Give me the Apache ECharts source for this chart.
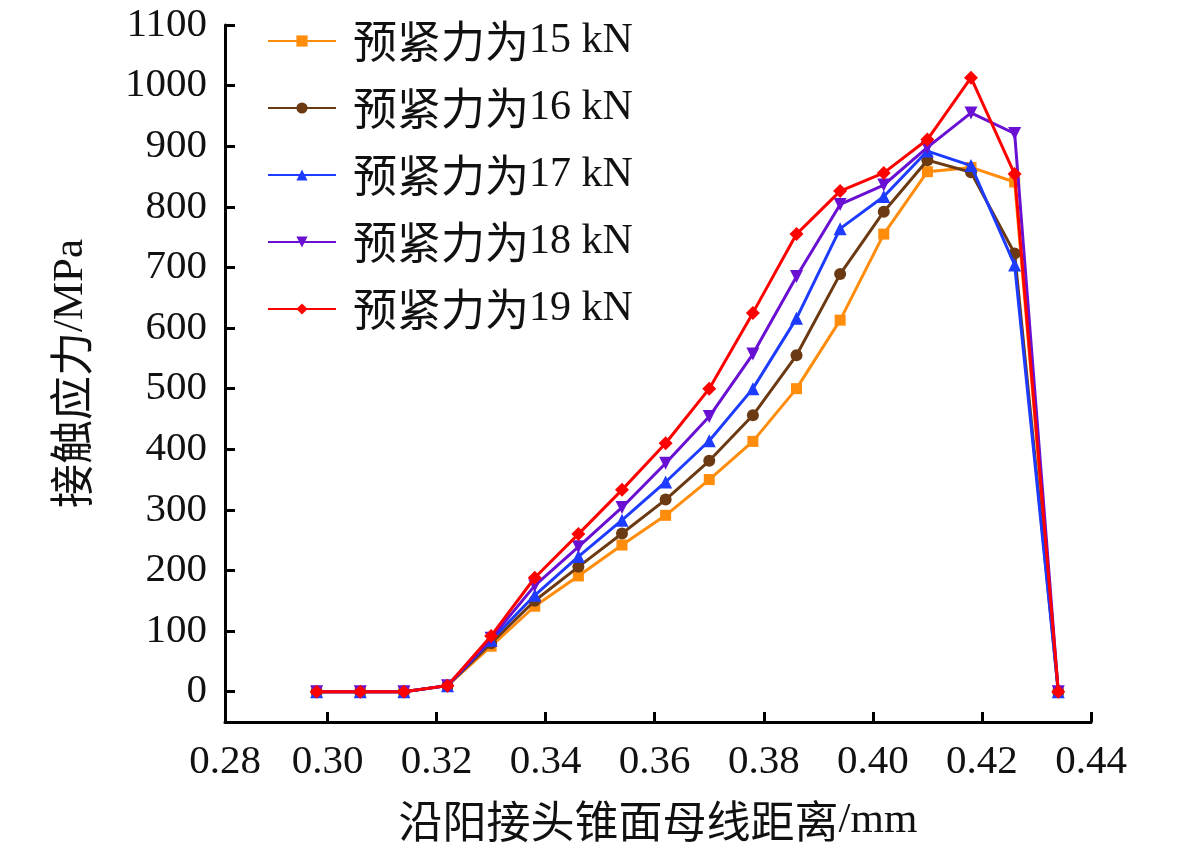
<!DOCTYPE html>
<html>
<head>
<meta charset="utf-8">
<script src="https://cdn.jsdelivr.net/npm/echarts@6.0.0/dist/echarts.min.js"></script>
<style>
html,body{margin:0;padding:0;background:#fff;}
#chart{width:1181px;height:851px;}
</style>
</head>
<body>
<div id="chart"></div>
<script>
// Data
var xValues = [0.298,0.306,0.314,0.322,0.330,0.338,0.346,0.354,0.362,0.370,0.378,0.386,0.394,0.402,0.410,0.418,0.426,0.434];
var s15 = [0,0,0,10,75,141,191,242,291,350,413,500,613,755,858,865,841,0];
var s16 = [0,0,0,10,80,150,206,261,317,381,456,555,689,792,877,857,723,0];
var s17 = [0,0,0,10,85,159,223,283,346,414,500,616,764,817,892,868,704,0];
var s18 = [0,0,0,10,88,175,239,304,377,454,557,685,804,836,898,955,921,0];
var s19 = [0,0,0,10,92,188,260,333,410,500,625,755,826,856,911,1013,854,0];
var seriesNames = ['预紧力为15 kN','预紧力为16 kN','预紧力为17 kN','预紧力为18 kN','预紧力为19 kN'];
var xTickValues = [0.30,0.32,0.34,0.36,0.38,0.40,0.42,0.44];
var yTickValues = [0,100,200,300,400,500,600,700,800,900,1000,1100];
var xAxisName = '沿阳接头锥面母线距离/mm';
var yAxisName = '接触应力/MPa';

var FONT = "'Liberation Serif', 'Noto Sans CJK SC', serif";
var colors = ['#FF8C0A','#6B3A12','#1E3CFF','#6A10D2','#FF0000'];
var symbols = ['rect','circle','triangle','triangle','diamond'];
var rotates = [0,0,0,180,0];
var sizes = [11,12,13,13,14];
var allSeries = [s15,s16,s17,s18,s19];

function pairs(ys){ return xValues.map(function(x,i){ return [x, ys[i]]; }); }
// split text into CJK / non-CJK runs for rich text styling
function richSplit(s){
  var out = '', m, re = /([\u3400-\u9fff]+)|([^\u3400-\u9fff]+)/g;
  while ((m = re.exec(s)) !== null) {
    if (m[1]) out += '{c|' + m[1] + '}'; else out += '{n|' + m[2] + '}';
  }
  return out;
}

var xMin = 0.2812;
var chart = echarts.init(document.getElementById('chart'), null, {renderer:'canvas'});
chart.setOption({
  animation:false,
  backgroundColor:'#fff',
  grid:{left:225,right:90,top:25,bottom:129,containLabel:false},
  legend:{
    orient:'vertical',
    left:262,
    top:13,
    itemWidth:68,
    itemHeight:14,
    itemGap:21,
    data:seriesNames,
    formatter:function(n){ return richSplit(n); },
    textStyle:{fontFamily:FONT,fontSize:41,color:'#111',lineHeight:46,padding:[0,0,0,12],
      rich:{
        c:{fontFamily:"'Noto Sans CJK SC', sans-serif",fontSize:44,color:'#111',lineHeight:46},
        n:{fontFamily:"'Liberation Serif', serif",fontSize:42,color:'#111',lineHeight:46}
      }}
  },
  xAxis:{
    type:'value',
    min:xMin,
    max:0.44,
    name:richSplit(xAxisName),
    nameLocation:'middle',
    nameGap:77,
    nameTextStyle:{fontFamily:FONT,fontSize:42,color:'#111',
      rich:{
        c:{fontFamily:"'Noto Sans CJK SC', sans-serif",fontSize:44,color:'#111'},
        n:{fontFamily:"'Liberation Serif', serif",fontSize:43,color:'#111'}
      }},
    axisLine:{show:true,onZero:false,lineStyle:{color:'#000',width:3}},
    axisTick:{show:true,inside:true,length:10,lineStyle:{color:'#000',width:3},customValues:xTickValues},
    axisLabel:{fontFamily:FONT,fontSize:41,color:'#111',margin:20,
      customValues:[xMin].concat(xTickValues),
      formatter:function(v){ return v.toFixed(2); }},
    splitLine:{show:false}
  },
  yAxis:{
    type:'value',
    min:-50,
    max:1100,
    name:richSplit(yAxisName),
    nameLocation:'middle',
    nameGap:132,
    nameRotate:90,
    nameTextStyle:{fontFamily:FONT,fontSize:42,color:'#111',
      rich:{
        c:{fontFamily:"'Noto Sans CJK SC', sans-serif",fontSize:44,color:'#111'},
        n:{fontFamily:"'Liberation Serif', serif",fontSize:43,color:'#111'}
      }},
    axisLine:{show:true,onZero:false,lineStyle:{color:'#000',width:3}},
    axisTick:{show:true,inside:true,length:10,lineStyle:{color:'#000',width:3},customValues:yTickValues},
    axisLabel:{fontFamily:FONT,fontSize:41,color:'#111',margin:18,customValues:yTickValues,
      formatter:function(v){ return String(Math.round(v)); }},
    splitLine:{show:false}
  },
  series:allSeries.map(function(ys,i){
    return {
      name:seriesNames[i],
      type:'line',
      data:pairs(ys),
      symbol:symbols[i],
      symbolRotate:rotates[i],
      symbolSize:sizes[i],
      showAllSymbol:true,
      lineStyle:{color:colors[i],width:3},
      itemStyle:{color:colors[i]},
      z:2+i
    };
  })
});
</script>
</body>
</html>
